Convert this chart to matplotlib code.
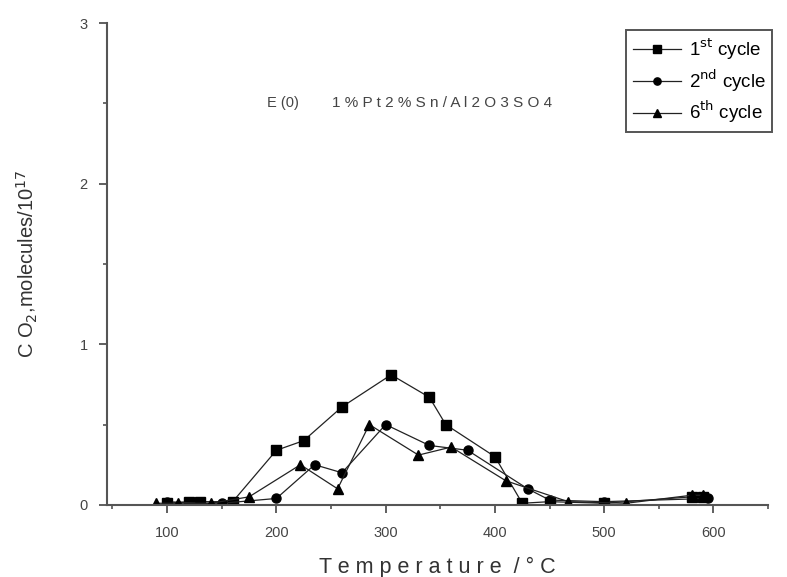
import matplotlib.pyplot as plt
from matplotlib.ticker import MultipleLocator

plt.rcParams['font.family'] = ['Liberation Sans', 'DejaVu Sans']

# 1st cycle
t1 = [100, 120, 130, 160, 200, 225, 260, 305, 340, 355, 400, 425, 450, 500, 580, 590]
c1 = [0.01, 0.02, 0.02, 0.02, 0.34, 0.40, 0.61, 0.81, 0.67, 0.50, 0.30, 0.01, 0.02, 0.01, 0.05, 0.05]
# 2nd cycle
t2 = [100, 130, 150, 200, 235, 260, 300, 340, 375, 430, 450, 500, 595]
c2 = [0.02, 0.01, 0.01, 0.04, 0.25, 0.20, 0.50, 0.37, 0.34, 0.10, 0.03, 0.02, 0.04]
# 6th cycle
t6 = [90, 110, 140, 175, 222, 256, 285, 330, 360, 410, 467, 520, 580, 590]
c6 = [0.01, 0.01, 0.01, 0.05, 0.25, 0.10, 0.50, 0.31, 0.36, 0.15, 0.02, 0.01, 0.06, 0.06]

labels = ["1$^{\\mathrm{st}}$ cycle", "2$^{\\mathrm{nd}}$ cycle", "6$^{\\mathrm{th}}$ cycle"]

fig = plt.figure(figsize=(7.87, 5.77), dpi=100)
ax = fig.add_axes([0.136, 0.125, 0.840, 0.835])

kw = dict(color='#222222', lw=0.9, ms=6.5, mec='black', mfc='black')
ax.plot(t1, c1, marker='s', label=labels[0], **kw)
ax.plot(t2, c2, marker='o', label=labels[1], **kw)
ax.plot(t6, c6, marker='^', label=labels[2], **kw)

ax.set_xlim(45, 650)
ax.set_ylim(0, 3)
ax.xaxis.set_major_locator(MultipleLocator(100))
ax.xaxis.set_minor_locator(MultipleLocator(50))
ax.yaxis.set_major_locator(MultipleLocator(1))
ax.yaxis.set_minor_locator(MultipleLocator(0.5))
ax.spines['top'].set_visible(False)
ax.spines['right'].set_visible(False)
for s in ('left', 'bottom'):
    ax.spines[s].set_color('#555555')
    ax.spines[s].set_linewidth(1.5)
ax.tick_params(which='major', direction='out', length=6, width=1.2,
               labelsize=10.5, colors='#444444', pad=9)
ax.tick_params(which='minor', direction='out', length=3, width=1.1, colors='#444444')
ax.tick_params(axis='y', pad=8)

ax.set_xlabel("T e m p e r a t u r e  / \u00b0 C", fontsize=15.5, labelpad=12, color='#333333')
ax.set_ylabel("C O$_{2}$,molecules/10$^{17}$", fontsize=14.5, labelpad=28, color='#333333')

ax.text(191, 2.5, "E (0)", fontsize=10.5, va='center', color='#444444')
ax.text(251, 2.5, "1 % P t 2 % S n / A l 2 O 3 S O 4", fontsize=11,
        va='center', color='#444444')

leg = ax.legend(loc='upper right', bbox_to_anchor=(1.012, 0.994), fontsize=13.5,
                handlelength=2.6, fancybox=False, edgecolor='#555555',
                framealpha=1, borderpad=0.35, labelspacing=0.3, handletextpad=0.4,
                borderaxespad=0.2, markerscale=0.8)
leg.get_frame().set_linewidth(1.4)

fig.savefig('out.png', dpi=100)
